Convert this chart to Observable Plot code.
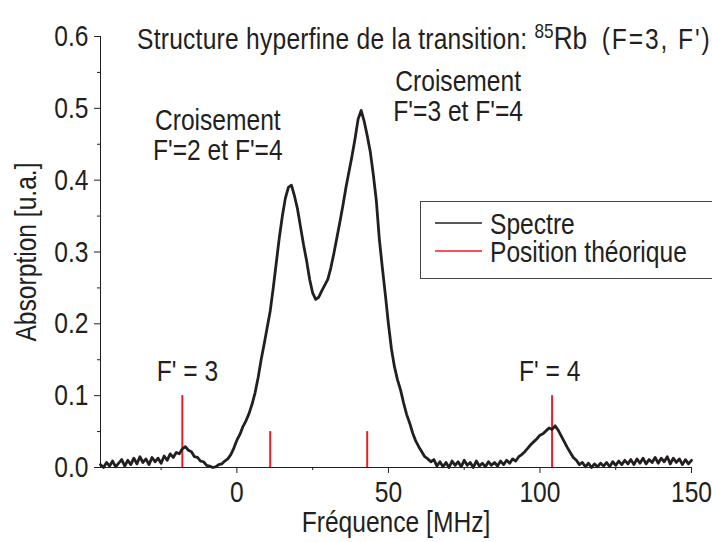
<!DOCTYPE html>
<html>
<head>
<meta charset="utf-8">
<script src="https://cdn.jsdelivr.net/npm/d3@7"></script>
<script src="https://cdn.jsdelivr.net/npm/@observablehq/plot@0.6"></script>
<style>
  html, body { margin: 0; padding: 0; background: #fff; }
  #chart svg { display: block; }
</style>
</head>
<body>
<div id="chart"></div>
<script>
// ---- Data ----
const freq = d3.range(-45, 151, 1); // MHz, one reading per MHz (-45 … 150)
const absorption = [
  0.004, 0.000, 0.007, 0.002, 0.009, 0.001, 0.006, 0.011, 0.002, 0.010, // -45..-36
  0.004, 0.013, 0.005, 0.015, 0.007, 0.012, 0.004, 0.014, 0.008, 0.013, // -35..-26
  0.006, 0.016, 0.010, 0.019, 0.014, 0.021, 0.019, 0.026, 0.029, 0.024, // -25..-16
  0.022, 0.015, 0.014, 0.009, 0.008, 0.003, 0.002, 0.000, 0.001, 0.004, // -15..-6
  0.005, 0.009, 0.012, 0.018, 0.027, 0.038, 0.046, 0.057, 0.065, 0.075, // -5..4
  0.088, 0.104, 0.125, 0.150, 0.172, 0.195, 0.218, 0.250, 0.285, 0.320, // 5..14
  0.350, 0.375, 0.390, 0.393, 0.378, 0.360, 0.335, 0.310, 0.288, 0.262, // 15..24
  0.243, 0.234, 0.237, 0.246, 0.254, 0.262, 0.278, 0.298, 0.320, 0.342, // 25..34
  0.365, 0.390, 0.412, 0.434, 0.458, 0.485, 0.497, 0.482, 0.462, 0.440, // 35..44
  0.408, 0.372, 0.318, 0.278, 0.240, 0.200, 0.165, 0.140, 0.122, 0.108, // 45..54
  0.090, 0.074, 0.062, 0.048, 0.037, 0.029, 0.022, 0.015, 0.012, 0.008, // 55..64
  0.011, 0.002, 0.008, 0.001, 0.007, 0.000, 0.009, 0.003, 0.008, 0.001, // 65..74
  0.010, 0.003, 0.007, 0.000, 0.009, 0.002, 0.006, 0.001, 0.008, 0.003, // 75..84
  0.007, 0.002, 0.009, 0.004, 0.010, 0.006, 0.012, 0.009, 0.015, 0.018, // 85..94
  0.022, 0.027, 0.032, 0.036, 0.040, 0.045, 0.047, 0.051, 0.055, 0.053, // 95..104
  0.058, 0.052, 0.044, 0.036, 0.028, 0.021, 0.014, 0.010, 0.004, 0.007, // 105..114
  0.001, 0.006, 0.000, 0.005, 0.001, 0.006, 0.002, 0.007, 0.001, 0.008, // 115..124
  0.003, 0.009, 0.004, 0.010, 0.005, 0.011, 0.004, 0.012, 0.006, 0.013, // 125..134
  0.005, 0.011, 0.007, 0.014, 0.006, 0.013, 0.008, 0.015, 0.005, 0.013, // 135..144
  0.007, 0.012, 0.004, 0.011, 0.005, 0.010                              // 145..150
];
const theoryFreq = [-18, 11, 43, 104];       // MHz
const theoryHeight = [0.1, 0.05, 0.05, 0.1]; // drawn marker heights
const annotations = ["Croisement\nF'=2 et F'=4", "Croisement\nF'=3 et F'=4", "F' = 3", "F' = 4"];
const annotX = [-6.3, 73, -16.3, 103.2];
const annotY = [0.462, 0.516, 0.134, 0.134];
const yTicks = [0, 0.1, 0.2, 0.3, 0.4, 0.5, 0.6];
const yMinor = [0.05, 0.15, 0.25, 0.35, 0.45, 0.55];
const xTicks = [0, 50, 100, 150];
const xMinor = [-25, 25, 75, 125];
const legendLabels = ["Spectre", "Position théorique"];
const legendColors = ["#231f20", "#ed1c24"];

const spectrum = freq.map((f, i) => ({f, a: absorption[i]}));
const theory = theoryFreq.map((f, i) => ({f, h: theoryHeight[i]}));
const notes = annotations.map((t, i) => ({t, x: annotX[i], y: annotY[i]}));

const INK = "#231f20";
const FONT = "'Liberation Sans', Arial, Helvetica, sans-serif";
const FS = 30;        // font size; glyphs are narrowed below to mimic the condensed face
const NARROW = 0.82;

const chart = Plot.plot({
  width: 712,
  height: 542,
  marginLeft: 100,
  marginRight: 21,
  marginTop: 36,
  marginBottom: 75,
  style: {fontFamily: FONT, fontSize: FS + "px", color: INK, background: "#fff"},
  x: {domain: [-45, 150]},
  y: {domain: [0, 0.6]},
  marks: [
    Plot.axisY({ticks: yMinor, tickSize: 3, tickFormat: () => "", label: null, stroke: INK}),
    Plot.axisY({ticks: yTicks, tickSize: 6, tickPadding: 6, tickFormat: d3.format(".1f"),
      label: "Absorption [u.a.]", labelAnchor: "center", labelArrow: "none", labelOffset: 86, stroke: INK, fill: INK}),
    Plot.axisX({ticks: xMinor, tickSize: 3, tickFormat: () => "", label: null, stroke: INK}),
    Plot.axisX({ticks: xTicks, tickSize: 6, tickPadding: 7, tickFormat: d3.format("d"),
      label: "Fréquence [MHz]", labelAnchor: "center", labelArrow: "none", labelOffset: 64, stroke: INK, fill: INK}),
    Plot.ruleX([-45], {y1: 0, y2: 0.6, stroke: INK, strokeWidth: 1}),
    Plot.ruleY([0], {stroke: INK, strokeWidth: 1}),
    Plot.ruleX(theory, {x: "f", y1: 0, y2: "h", stroke: legendColors[1], strokeWidth: 2}),
    Plot.line(spectrum, {x: "f", y: "a", stroke: INK, strokeWidth: 2.8, strokeLinejoin: "round"}),
    Plot.text(notes, {x: "x", y: "y", text: "t", fill: INK, fontSize: FS, lineHeight: 1.0})
  ]
});

document.getElementById("chart").appendChild(chart);

// Title with superscript and legend box (text, added in the SVG)
const svg = d3.select(chart);
const title = svg.append("text")
  .attr("x", 137).attr("y", 49).attr("text-anchor", "start")
  .attr("fill", INK).attr("font-size", FS).attr("font-family", FONT)
  .style("white-space", "pre");
title.append("tspan").attr("letter-spacing", 0.3).text("Structure hyperfine de la transition: ");
title.append("tspan").attr("font-size", 21).attr("dy", -11).text("85");
title.append("tspan").attr("dy", 11).attr("font-size", 32).text("Rb  ");
title.append("tspan").attr("letter-spacing", 2.3).text("(F=3, F')");

const lg = svg.append("g");
lg.append("rect").attr("x", 420.5).attr("y", 201.5).attr("width", 300).attr("height", 77)
  .attr("fill", "#fff").attr("stroke", "#444").attr("stroke-width", 1);
legendLabels.forEach((lab, i) => {
  const y = 223 + i * 28;
  lg.append("line").attr("x1", 435).attr("x2", 482).attr("y1", y).attr("y2", y)
    .attr("stroke", legendColors[i]).attr("stroke-width", 1.5);
  lg.append("text").attr("x", 490).attr("y", y).attr("dy", "0.35em").attr("text-anchor", "start")
    .attr("fill", INK).attr("font-size", FS).attr("font-family", FONT).text(lab);
});

// Narrow every text horizontally around its own anchor point
const isNum = v => v != null && /^\s*-?[\d.]+(e-?\d+)?\s*$/.test(v);
svg.selectAll("text").each(function() {
  const el = d3.select(this);
  const ax = el.attr("x"), ay = el.attr("y");
  let x = 0, y = 0;
  if (isNum(ax)) { x = +ax; el.attr("x", null); }
  if (isNum(ay)) { y = +ay; el.attr("y", null); }
  const t = el.attr("transform") || "";
  el.attr("transform", `${t} translate(${x},${y}) scale(${NARROW},1)`);
});
</script>
</body>
</html>
